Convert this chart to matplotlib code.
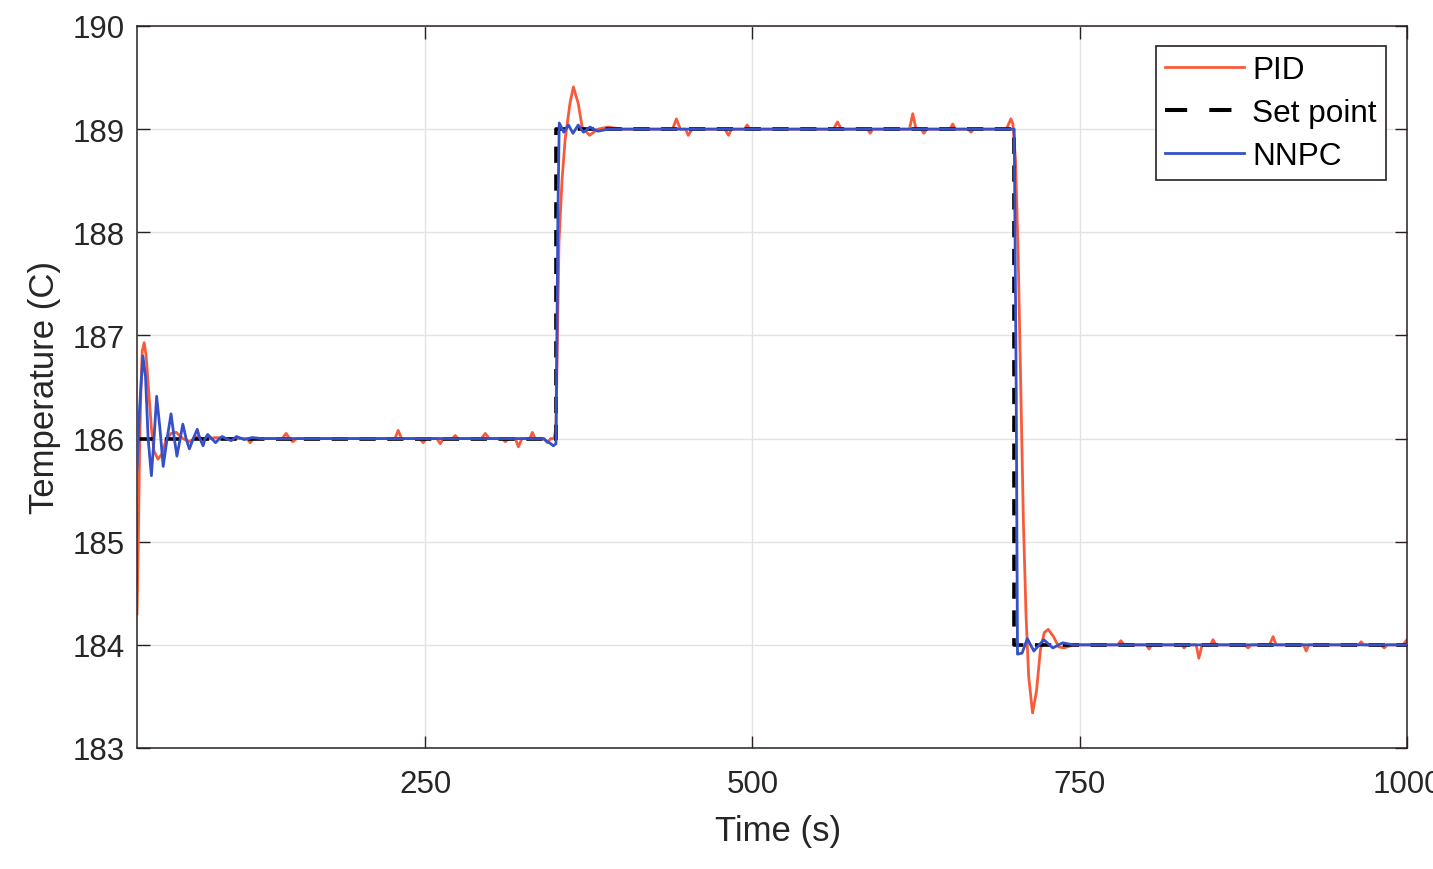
import matplotlib
matplotlib.use("Agg")
import matplotlib.pyplot as plt

plt.rcParams['font.family'] = ['Liberation Sans', 'DejaVu Sans']

# ---- data ----
# Set point
sp_t = [30, 350, 350, 700, 700, 1000]
sp_y = [186, 186, 189, 189, 184, 184]

# PID response
pid_t = [30, 31, 32, 33, 34, 35.5, 37, 39, 41, 43, 46, 49, 52, 56, 60, 65, 70, 76, 82, 90, 100,
         114, 116.4, 119, 141, 143.9, 146.5, 149, 152, 227, 229.5, 232, 246, 248.6, 251, 259,
         261.6, 264, 271, 273, 275, 293, 296, 299, 309, 311.3, 314, 319, 321.3, 324, 330, 332, 334,
         341, 343.4, 346, 348.5,
         350, 351, 352.3, 354.6, 357, 360.7, 363.3, 367, 370, 375.6, 382, 390, 400,
         439, 442, 445, 449, 451, 454, 479, 481.8, 484, 494, 496, 498, 562, 565, 568, 588, 590, 592,
         620, 622.5, 625, 629, 631, 633, 651, 653, 655, 665, 667, 669, 694, 697.5,
         699, 701, 703, 705, 707, 709, 711, 714, 717, 720, 723, 726, 730, 734, 738, 745,
         779, 781.5, 784, 801, 803, 805, 828, 829.7, 832, 839, 841, 843.5, 850, 851.8, 854,
         876, 878.6, 881, 895, 897.7, 900, 921, 923, 925, 963, 965, 967, 980, 982.6, 985, 997, 1000]
pid_y = [184.3, 185.0, 185.9, 186.5, 186.85, 186.93, 186.8, 186.45, 186.1, 185.88, 185.8, 185.85,
         185.98, 186.05, 186.06, 186.0, 185.97, 186.02, 185.99, 186.01, 186.0,
         186.0, 185.96, 186.0, 186.0, 186.05, 186.0, 185.97, 186.0, 186.0, 186.08, 186.0,
         186.0, 185.96, 186.0, 186.0, 185.95, 186.0, 186.0, 186.03, 186.0, 186.0, 186.05, 186.0,
         186.0, 185.97, 186.0, 186.0, 185.92, 186.0, 186.0, 186.06, 186.0, 186.0, 185.96, 186.0,
         186.0,
         186.1, 186.9, 187.9, 188.5, 188.9, 189.25, 189.41, 189.25, 189.02, 188.94, 189.0, 189.02,
         189.0,
         189.0, 189.10, 189.0, 189.0, 188.94, 189.0, 189.0, 188.94, 189.0, 189.0, 189.04, 189.0,
         189.0, 189.07, 189.0, 189.0, 188.96, 189.0, 189.0, 189.15, 189.0, 189.0, 188.96, 189.0,
         189.0, 189.05, 189.0, 189.0, 188.97, 189.0, 189.0, 189.10,
         189.05, 188.7, 187.8, 186.5, 185.2, 184.3, 183.7, 183.34, 183.55, 183.95, 184.12, 184.15,
         184.08, 183.98, 183.97, 184.0,
         184.0, 184.04, 184.0, 184.0, 183.96, 184.0, 184.0, 183.97, 184.0, 184.0, 183.87, 184.0,
         184.0, 184.05, 184.0, 184.0, 183.97, 184.0, 184.0, 184.08, 184.0, 184.0, 183.94, 184.0,
         184.0, 184.03, 184.0, 184.0, 183.97, 184.0, 184.0, 184.05]

# NNPC response
nn_t = [30, 32, 34.5, 36.5, 38.5, 41, 43, 45, 47.5, 50, 53, 56, 58.5, 60.5, 63, 65, 67.5, 70, 73,
        76, 78, 80.5, 82, 84, 87, 90, 93, 95, 98, 102, 106, 112, 118, 125, 340, 346, 348,
        350, 351.5, 352.5, 356, 359.5, 363, 367, 371, 376, 382, 390,
        700, 701.5, 702.5, 706, 710, 715, 722.6, 729.5, 737, 745, 1000]
nn_y = [185.7, 186.3, 186.8, 186.6, 186.0, 185.64, 186.0, 186.41, 186.1, 185.73, 186.0, 186.24,
        186.0, 185.83, 186.0, 186.14, 186.0, 185.90, 186.0, 186.09, 186.0, 185.93, 186.0, 186.04,
        186.0, 185.96, 186.0, 186.02, 186.0, 185.98, 186.02, 185.99, 186.01, 186.0, 186.0, 185.95,
        185.93,
        185.95, 188.2, 189.06, 188.97, 189.04, 188.96, 189.04, 188.97, 189.02, 188.98, 189.0,
        189.0, 186.5, 183.91, 183.92, 184.06, 183.94, 184.05, 183.97, 184.02, 184.0, 184.0]

x_ticks = [250, 500, 750, 1000]
y_ticks = [183, 184, 185, 186, 187, 188, 189, 190]

# ---- figure ----
W, H = 1433, 870
fig = plt.figure(figsize=(W / 100, H / 100), dpi=100)
ax_l, ax_r, ax_t, ax_b = 137, 1407, 27, 749
ax = fig.add_axes([ax_l / W, 1 - ax_b / H, (ax_r - ax_l) / W, (ax_b - ax_t) / H])

red = '#f85b3b'
blue = '#3550c8'
dark = '#262626'

ax.plot(pid_t, pid_y, color=red, lw=2.0, label='PID', zorder=2)
ax.plot(sp_t, sp_y, color='black', lw=2.6, ls=(0, (4.5, 3.2)), label='Set point', zorder=3)
ax.plot(nn_t, nn_y, color=blue, lw=2.0, label='NNPC', zorder=4)

ax.set_xlim(30, 1000)
ax.set_ylim(183, 190)
ax.set_xticks(x_ticks)
ax.set_yticks(y_ticks)
ax.set_xticklabels([str(v) for v in x_ticks])
ax.set_yticklabels([str(v) for v in y_ticks])

ax.grid(True, color='#e3e3e3', lw=1.0)
ax.set_axisbelow(True)
for s in ax.spines.values():
    s.set_color('#2a2020')
    s.set_linewidth(1.1)

ax.tick_params(direction='in', length=9, width=1.0, color='#2a2020',
               top=True, right=True, labelsize=22.5, labelcolor=dark)
ax.tick_params(axis='x', pad=15)
ax.tick_params(axis='y', pad=9)

ax.set_xlabel('Time (s)', fontsize=25, color=dark)
ax.set_ylabel('Temperature (C)', fontsize=25, color=dark)
ax.xaxis.set_label_coords(0.505, -0.091)
ax.yaxis.set_label_coords(-0.060, 0.5)

leg = ax.legend(loc='upper right', bbox_to_anchor=((1386 - ax_l) / (ax_r - ax_l), 1 - (47 - ax_t) / (ax_b - ax_t)),
                borderaxespad=0, fontsize=22.7, handlelength=2.5, handletextpad=0.25,
                labelspacing=0.4, borderpad=0.3, fancybox=False, framealpha=1)
leg.get_frame().set_edgecolor('#2a2020')
leg.get_frame().set_linewidth(1.2)
for t in leg.get_texts():
    t.set_color('black')
sp_handle = leg.legend_handles[1]
sp_handle.set_linewidth(2.9)
sp_handle.set_linestyle((0, (5.5, 5.5)))

fig.savefig('out.png', dpi=100)
